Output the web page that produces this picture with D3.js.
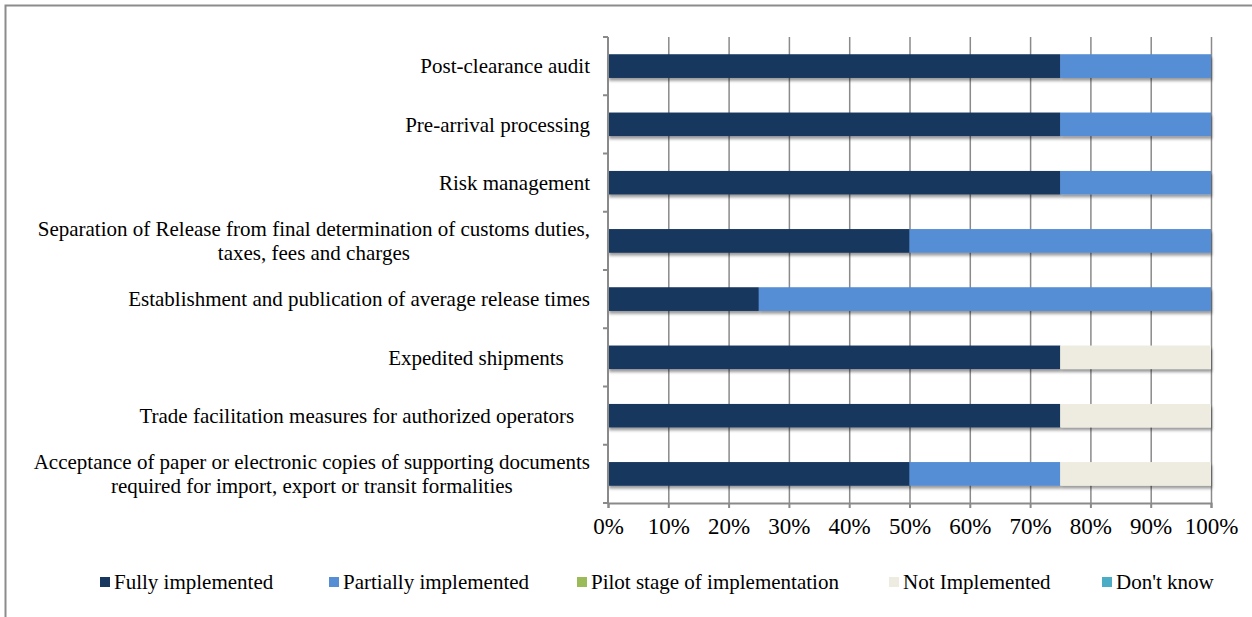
<!DOCTYPE html>
<html><head><meta charset="utf-8">
<script src="https://cdn.jsdelivr.net/npm/d3@7"></script>
<style>
html,body{margin:0;padding:0;background:#fff;}
svg{display:block;font-family:"Liberation Serif","Times New Roman",serif;}
</style></head>
<body>
<svg id="chart" width="1252" height="617"></svg>
<script>
// ---- data ----
const categories = [
  "Post-clearance audit",
  "Pre-arrival processing",
  "Risk management",
  "Separation of Release from final determination of customs duties,\ntaxes, fees and charges",
  "Establishment and publication of average release times",
  "Expedited shipments\u00a0\u00a0\u00a0\u00a0\u00a0",
  "Trade facilitation measures for authorized operators\u00a0\u00a0\u00a0",
  "Acceptance of paper or electronic copies of supporting documents\nrequired for import, export or transit formalities"
];
const seriesNames = ["Fully implemented","Partially implemented","Pilot stage of implementation","Not Implemented","Don't know"];
const fullyImplemented     = [0.75,0.75,0.75,0.50,0.25,0.75,0.75,0.50];
const partiallyImplemented = [0.25,0.25,0.25,0.50,0.75,0.00,0.00,0.25];
const pilotStage           = [0,0,0,0,0,0,0,0];
const notImplemented       = [0,0,0,0,0,0.25,0.25,0.25];
const dontKnow             = [0,0,0,0,0,0,0,0];
const xTicks = [0,0.1,0.2,0.3,0.4,0.5,0.6,0.7,0.8,0.9,1.0];
const colors = ["#17375E","#558ED5","#9BBB59","#EEECE1","#4BACC6"];

const seriesValues = [fullyImplemented, partiallyImplemented, pilotStage, notImplemented, dontKnow];
const rows = categories.map((c,i)=>{
  const r = {cat:c};
  seriesNames.forEach((s,j)=>r[s]=seriesValues[j][i]);
  return r;
});

const svg = d3.select("#chart");
const W = 1252, H = 617;
const m = {left:608, right:W-1211, top:37, bottom:H-503};

// border
svg.append("path").attr("d",`M5.5,${H} V5.5 H${W}`).attr("fill","none").attr("stroke","#8c8c8c").attr("stroke-width",2);

const x = d3.scaleLinear().domain([0,1]).range([m.left, W-m.right]);
const y = d3.scaleBand().domain(categories).range([m.top, H-m.bottom]).paddingInner(0.6).paddingOuter(0.3);

const defs = svg.append("defs");
const f = defs.append("filter").attr("id","shadow").attr("x","-5%").attr("y","-50%").attr("width","110%").attr("height","220%");
f.append("feDropShadow").attr("dx",1).attr("dy",3).attr("stdDeviation",1.8).attr("flood-color","#000").attr("flood-opacity",0.4);

// gridlines
const grid = svg.append("g").attr("transform",`translate(0,${H-m.bottom})`)
  .call(d3.axisBottom(x).tickValues(xTicks.slice(1)).tickSize(-(H-m.bottom-m.top)).tickFormat(""));
grid.select(".domain").remove();
grid.selectAll("line").attr("stroke","#8a8a8a").attr("stroke-width",1.5);

// bars
const stack = d3.stack().keys(seriesNames)(rows);
const g = svg.append("g");
stack.forEach((layer,li)=>{
  g.append("g").attr("fill",colors[li]).attr("filter","url(#shadow)")
   .selectAll("rect").data(layer.filter(d=>d[1]-d[0]>0)).join("rect")
   .attr("x",d=>x(d[0])).attr("width",d=>x(d[1])-x(d[0]))
   .attr("y",d=>y(d.data.cat)).attr("height",y.bandwidth());
});
stack.forEach((layer,li)=>{
  g.append("g").attr("fill",colors[li])
   .selectAll("rect").data(layer.filter(d=>d[1]-d[0]>0)).join("rect")
   .attr("x",d=>x(d[0])).attr("width",d=>x(d[1])-x(d[0]))
   .attr("y",d=>y(d.data.cat)).attr("height",y.bandwidth());
});

// x axis
const xa = svg.append("g").attr("transform",`translate(0,${H-m.bottom})`)
  .call(d3.axisBottom(x).tickValues(xTicks).tickSize(5).tickPadding(10).tickFormat(d3.format(".0%")));
xa.select(".domain").attr("stroke","#8a8a8a").attr("stroke-width",2);
xa.selectAll("line").attr("stroke","#8a8a8a").attr("stroke-width",2);
xa.selectAll("text").attr("font-size",23).attr("fill","#000").attr("font-family","Liberation Serif");

// y axis line + ticks between categories
const ya = svg.append("g");
ya.append("line").attr("x1",m.left).attr("x2",m.left).attr("y1",m.top).attr("y2",H-m.bottom).attr("stroke","#8a8a8a").attr("stroke-width",2);
d3.range(categories.length+1).forEach(i=>{
  const yy = m.top + i*(H-m.bottom-m.top)/categories.length;
  ya.append("line").attr("x1",m.left-5).attr("x2",m.left).attr("y1",yy).attr("y2",yy).attr("stroke","#8a8a8a").attr("stroke-width",2);
});

// category labels
const lab = svg.append("g").attr("font-size",21).attr("fill","#000");
categories.forEach(c=>{
  const lines = c.split("\n");
  const cy = y(c)+y.bandwidth()/2;
  const lh = 23.5;
  const t = lab.append("text").attr("xml:space","preserve").style("white-space","pre");
  lines.forEach((ln,i)=>{
    t.append("tspan").text(ln).attr("y", cy + (i-(lines.length-1)/2)*lh).attr("dy","0.35em");
  });
  const widths = t.selectAll("tspan").nodes().map(n=>n.getComputedTextLength());
  const maxW = d3.max(widths);
  const right = 590;
  t.selectAll("tspan").attr("x",(d,i)=> right - maxW/2).attr("text-anchor","middle");
  if(lines.length===1) t.selectAll("tspan").attr("x",right).attr("text-anchor","end");
});

// legend
const legX = [100,329,577,889,1102];
const leg = svg.append("g").attr("font-size",21);
seriesNames.forEach((s,i)=>{
  leg.append("rect").attr("x",legX[i]).attr("y",577).attr("width",10).attr("height",10).attr("fill",colors[i]);
  leg.append("text").attr("x",legX[i]+14).attr("y",582).attr("dy","0.35em").text(s);
});
</script>
</body></html>
